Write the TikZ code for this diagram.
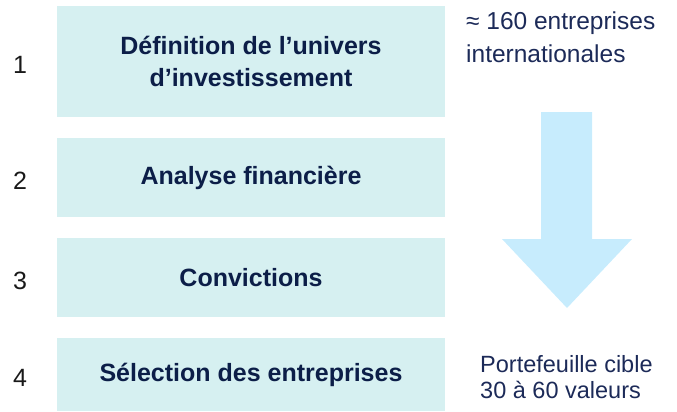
\documentclass[tikz,border=0pt]{standalone}
\usepackage{fontspec}
\setmainfont{Liberation Sans}
\usetikzlibrary{positioning}
\definecolor{BoxCyan}{RGB}{214,240,241}
\definecolor{ArrowBlue}{RGB}{199,236,253}
\definecolor{TextNavy}{RGB}{12,30,72}
\definecolor{NoteNavy}{RGB}{28,42,88}

\begin{document}
\begin{tikzpicture}[x=1pt, y=-1pt,
    stepbox/.style={fill=BoxCyan, minimum width=388pt, inner sep=0, align=center,
        text=TextNavy, font=\fontsize{25}{32}\selectfont\bfseries},
    num/.style={inner sep=0, font=\fontsize{25}{28}\selectfont, text=black!90},
    note/.style={inner sep=0, align=left, text=NoteNavy, font=\fontsize{24.5}{33}\selectfont}]
\useasboundingbox (0,0) rectangle (677,412);
\foreach \n/\y/\h/\txt in {1/61.5/111/{Définition de l’univers\\d’investissement},
    2/177.5/79/{Analyse financière}, 3/277.5/79/{Convictions}, 4/374.5/73/{Sélection des entreprises}}
{
    \node[stepbox, minimum height=\h] (S\n) at (251,\y) {\txt};
    \node[num] (N\n) at (20,\y+3) {\n};
}
% funnel arrow
\coordinate (top) at (566.5,112);
\fill[ArrowBlue] (top) ++(-25.5,0) -- ++(51,0) -- ++(0,127) -- ++(40,0) -- (567,308) -- (502,239) -- (541,239) -- cycle;
\node[note, anchor=west] (univers) at (466,37) {≈ 160 entreprises\\internationales};
\node[note, anchor=west, font=\fontsize{23.5}{26.5}\selectfont] (cible) at (480,377) {Portefeuille cible\\30 à 60 valeurs};
\end{tikzpicture}
\end{document}
